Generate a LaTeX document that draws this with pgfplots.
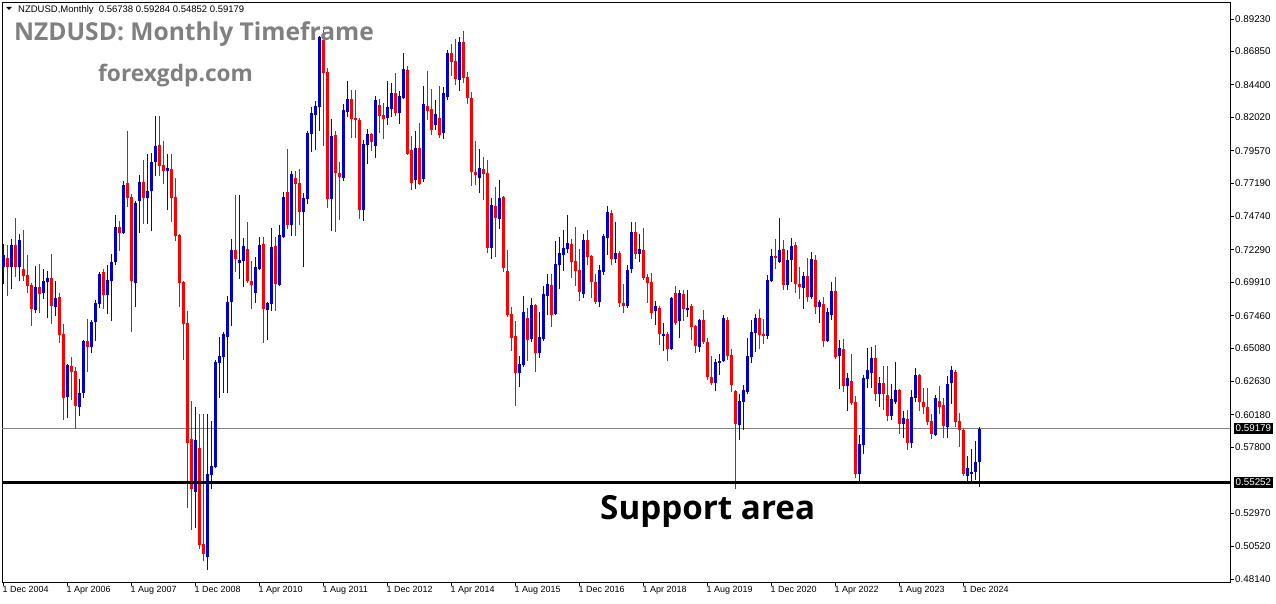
\documentclass[border=0pt]{standalone}
\usepackage{fontspec}
\setmainfont{Liberation Sans}
\newfontfamily\titlefont{Open Sans}
\usepackage{pgfplots}
\pgfplotsset{compat=1.18}
\usepackage{pgfplotstable}

\definecolor{bull}{RGB}{0,0,205}
\definecolor{bear}{RGB}{255,0,0}
\definecolor{wm}{RGB}{128,128,128}
\definecolor{pline}{RGB}{128,132,140}

% monthly candles, i = months since Dec 2004
\pgfplotstableread{
i O H L C
0 0.7100 0.7270 0.6980 0.7190
1 0.7170 0.7265 0.6890 0.7100
2 0.7100 0.7309 0.6944 0.7265
3 0.7265 0.7463 0.7032 0.7100
4 0.7100 0.7345 0.6999 0.7301
5 0.7089 0.7374 0.6999 0.7037
6 0.7045 0.7191 0.6915 0.6964
7 0.6971 0.6985 0.6670 0.6795
8 0.6787 0.7110 0.6763 0.6956
9 0.6956 0.7125 0.6763 0.6905
10 0.6912 0.7088 0.6868 0.6999
11 0.6993 0.7074 0.6729 0.7022
12 0.7022 0.7198 0.6685 0.6817
13 0.6810 0.6999 0.6743 0.6876
14 0.6883 0.6912 0.6545 0.6604
15 0.6611 0.6685 0.5981 0.6142
16 0.6149 0.6395 0.5995 0.6384
17 0.6377 0.6443 0.6127 0.6333
18 0.6340 0.6369 0.5914 0.6083
19 0.6076 0.6281 0.6010 0.6179
20 0.6179 0.6567 0.6142 0.6560
21 0.6560 0.6721 0.6333 0.6516
22 0.6516 0.6714 0.6472 0.6700
23 0.6700 0.6861 0.6560 0.6839
24 0.6832 0.7066 0.6802 0.7052
25 0.7067 0.7088 0.6795 0.6898
26 0.6898 0.7118 0.6758 0.7008
27 0.7000 0.7198 0.6707 0.7140
28 0.7140 0.7485 0.7118 0.7397
29 0.7397 0.7441 0.7221 0.7353
30 0.7353 0.7734 0.7345 0.7705
31 0.7720 0.8101 0.7543 0.7610
32 0.7617 0.7640 0.6626 0.7000
33 0.6986 0.7588 0.6810 0.7573
34 0.7588 0.7778 0.7353 0.7727
35 0.7727 0.7888 0.7419 0.7610
36 0.7610 0.7932 0.7419 0.7661
37 0.7661 0.7940 0.7367 0.7874
38 0.7874 0.8211 0.7771 0.7991
39 0.7998 0.8211 0.7771 0.7844
40 0.7852 0.8028 0.7712 0.7808
41 0.7808 0.7932 0.7521 0.7830
42 0.7822 0.7932 0.7433 0.7610
43 0.7617 0.7756 0.7294 0.7331
44 0.7338 0.7345 0.6810 0.6986
45 0.6993 0.7000 0.6421 0.6685
46 0.6692 0.6780 0.5335 0.5812
47 0.5841 0.6120 0.5173 0.5474
48 0.5452 0.6076 0.5187 0.5834
49 0.5775 0.6025 0.5034 0.5063
50 0.5071 0.6025 0.4945 0.4997
51 0.4975 0.6025 0.4880 0.5584
52 0.5577 0.5973 0.5474 0.5643
53 0.5636 0.6420 0.5628 0.6406
54 0.6399 0.6589 0.6142 0.6450
55 0.6443 0.6626 0.6179 0.6611
56 0.6589 0.6890 0.6179 0.6846
57 0.6846 0.7309 0.6670 0.7228
58 0.7228 0.7632 0.7066 0.7162
59 0.7133 0.7632 0.7015 0.7155
60 0.7147 0.7316 0.6956 0.7257
61 0.7235 0.7433 0.6985 0.7000
62 0.7000 0.7147 0.6795 0.6971
63 0.6912 0.7176 0.6839 0.7103
64 0.7088 0.7323 0.7080 0.7265
65 0.7272 0.7323 0.6545 0.6795
66 0.6788 0.6850 0.6567 0.6839
67 0.6832 0.7389 0.6780 0.7250
68 0.7257 0.7323 0.6780 0.6978
69 0.6971 0.7411 0.6963 0.7338
70 0.7323 0.7653 0.7316 0.7617
71 0.7653 0.7969 0.7382 0.7411
72 0.7411 0.7808 0.7331 0.7786
73 0.7756 0.7808 0.7331 0.7712
74 0.7720 0.7822 0.7411 0.7507
75 0.7507 0.7646 0.7103 0.7610
76 0.7602 0.8101 0.7565 0.8086
77 0.8079 0.8277 0.7950 0.8233
78 0.8219 0.8321 0.7962 0.8285
79 0.8277 0.8800 0.8101 0.8791
80 0.8769 0.8842 0.7990 0.8527
81 0.8534 0.8560 0.7536 0.7602
82 0.7602 0.8190 0.7370 0.8064
83 0.8072 0.8101 0.7360 0.7793
84 0.7793 0.7874 0.7448 0.7764
85 0.7756 0.8299 0.7734 0.8255
86 0.8241 0.8468 0.8204 0.8336
87 0.8336 0.8402 0.8050 0.8190
88 0.8197 0.8402 0.8050 0.8182
89 0.8182 0.8200 0.7455 0.7521
90 0.7521 0.8035 0.7441 0.8006
91 0.7998 0.8116 0.7860 0.8079
92 0.8079 0.8086 0.7954 0.8021
93 0.7990 0.8360 0.7903 0.8330
94 0.8292 0.8336 0.8086 0.8211
95 0.8219 0.8307 0.8042 0.8189
96 0.8197 0.8468 0.8145 0.8277
97 0.8263 0.8453 0.8204 0.8380
98 0.8380 0.8527 0.8211 0.8233
99 0.8233 0.8395 0.8153 0.8358
100 0.8343 0.8674 0.8336 0.8556
101 0.8549 0.8578 0.7925 0.7932
102 0.7962 0.8064 0.7668 0.7720
103 0.7742 0.8101 0.7675 0.7976
104 0.7976 0.8160 0.7705 0.7712
105 0.7749 0.8431 0.7727 0.8299
106 0.8285 0.8541 0.8182 0.8248
107 0.8263 0.8409 0.8072 0.8109
108 0.8145 0.8329 0.8109 0.8226
109 0.8197 0.8431 0.8050 0.8072
110 0.8086 0.8424 0.8042 0.8380
111 0.8351 0.8696 0.8329 0.8674
112 0.8674 0.8740 0.8505 0.8608
113 0.8615 0.8776 0.8439 0.8483
114 0.8476 0.8791 0.8395 0.8754
115 0.8754 0.8835 0.8453 0.8490
116 0.8497 0.8534 0.8299 0.8343
117 0.8343 0.8387 0.7698 0.7800
118 0.7800 0.8028 0.7705 0.7778
119 0.7756 0.7969 0.7646 0.7830
120 0.7822 0.7910 0.7595 0.7786
121 0.7793 0.7888 0.7206 0.7243
122 0.7243 0.7610 0.7162 0.7558
123 0.7551 0.7690 0.7176 0.7463
124 0.7456 0.7742 0.7382 0.7610
125 0.7617 0.7624 0.7066 0.7096
126 0.7074 0.7228 0.6736 0.6751
127 0.6758 0.6810 0.6487 0.6582
128 0.6597 0.6707 0.6083 0.6326
129 0.6326 0.6450 0.6223 0.6391
130 0.6384 0.6890 0.6369 0.6773
131 0.6729 0.6802 0.6413 0.6568
132 0.6575 0.6876 0.6553 0.6824
133 0.6824 0.6832 0.6333 0.6472
134 0.6472 0.6773 0.6435 0.6590
135 0.6575 0.6963 0.6560 0.6905
136 0.6890 0.7052 0.6751 0.6978
137 0.6971 0.7052 0.6663 0.6751
138 0.6758 0.7294 0.6751 0.7125
139 0.7118 0.7323 0.6941 0.7206
140 0.7191 0.7374 0.7074 0.7243
141 0.7235 0.7485 0.7206 0.7279
142 0.7272 0.7309 0.7022 0.7140
143 0.7147 0.7397 0.6963 0.7074
144 0.7081 0.7235 0.6853 0.6920
145 0.6905 0.7345 0.6876 0.7301
146 0.7301 0.7374 0.7118 0.7176
147 0.7184 0.7191 0.6876 0.6993
148 0.6993 0.7052 0.6830 0.6846
149 0.6846 0.7118 0.6810 0.7081
150 0.7066 0.7345 0.7044 0.7331
151 0.7316 0.7551 0.7191 0.7507
152 0.7499 0.7521 0.7118 0.7162
153 0.7162 0.7433 0.7133 0.7206
154 0.7206 0.7220 0.6810 0.6839
155 0.6839 0.6978 0.6766 0.6817
156 0.6817 0.7118 0.6802 0.7081
157 0.7089 0.7433 0.7059 0.7360
158 0.7360 0.7433 0.7162 0.7198
159 0.7198 0.7345 0.7140 0.7235
160 0.7228 0.7389 0.7010 0.7022
161 0.7030 0.7052 0.6839 0.6986
162 0.6993 0.7059 0.6721 0.6766
163 0.6780 0.6853 0.6677 0.6817
164 0.6802 0.6817 0.6531 0.6611
165 0.6604 0.6692 0.6487 0.6611
166 0.6611 0.6626 0.6413 0.6501
167 0.6501 0.6883 0.6495 0.6876
168 0.6912 0.6963 0.6677 0.6692
169 0.6707 0.6934 0.6582 0.6912
170 0.6905 0.6934 0.6707 0.6795
171 0.6795 0.6934 0.6736 0.6802
172 0.6817 0.6832 0.6567 0.6663
173 0.6670 0.6677 0.6472 0.6523
174 0.6516 0.6720 0.6479 0.6714
175 0.6714 0.6788 0.6538 0.6553
176 0.6553 0.6582 0.6274 0.6296
177 0.6296 0.6450 0.6237 0.6252
178 0.6252 0.6428 0.6193 0.6406
179 0.6399 0.6465 0.6311 0.6413
180 0.6413 0.6751 0.6406 0.6729
181 0.6714 0.6736 0.6421 0.6450
182 0.6457 0.6501 0.6186 0.6237
183 0.6193 0.6200 0.5474 0.5951
184 0.5944 0.6171 0.5833 0.6120
185 0.6113 0.6237 0.5907 0.6201
186 0.6186 0.6582 0.6171 0.6450
187 0.6443 0.6714 0.6399 0.6626
188 0.6620 0.6758 0.6479 0.6729
189 0.6729 0.6795 0.6501 0.6604
190 0.6611 0.6721 0.6538 0.6597
191 0.6597 0.7044 0.6575 0.7008
192 0.7000 0.7235 0.6993 0.7184
193 0.7184 0.7309 0.7088 0.7169
194 0.7140 0.7463 0.7133 0.7228
195 0.7235 0.7301 0.6934 0.6971
196 0.6971 0.7228 0.6934 0.7155
197 0.7155 0.7316 0.6993 0.7257
198 0.7265 0.7287 0.6912 0.6978
199 0.6978 0.7103 0.6868 0.6956
200 0.6949 0.7066 0.6795 0.7037
201 0.7037 0.7169 0.6846 0.6883
202 0.6883 0.7213 0.6868 0.7162
203 0.7155 0.7191 0.6758 0.6810
204 0.6810 0.6861 0.6692 0.6846
205 0.6832 0.6883 0.6516 0.6560
206 0.6560 0.6802 0.6553 0.6773
207 0.6751 0.6993 0.6714 0.6927
208 0.6927 0.7030 0.6430 0.6443
209 0.6450 0.6567 0.6208 0.6509
210 0.6502 0.6575 0.6186 0.6230
211 0.6230 0.6325 0.6047 0.6289
212 0.6267 0.6465 0.6091 0.6105
213 0.6113 0.6157 0.5555 0.5584
214 0.5584 0.5870 0.5518 0.5804
215 0.5797 0.6311 0.5731 0.6289
216 0.6281 0.6509 0.6215 0.6347
217 0.6325 0.6516 0.6215 0.6435
218 0.6435 0.6531 0.6120 0.6171
219 0.6171 0.6296 0.6076 0.6252
220 0.6252 0.6377 0.6054 0.6171
221 0.6164 0.6377 0.5973 0.6010
222 0.6010 0.6245 0.5981 0.6135
223 0.6113 0.6406 0.6100 0.6201
224 0.6201 0.6208 0.5878 0.5951
225 0.5951 0.6047 0.5848 0.5995
226 0.5988 0.6054 0.5760 0.5812
227 0.5812 0.6201 0.5775 0.6149
228 0.6142 0.6362 0.6113 0.6311
229 0.6311 0.6318 0.6047 0.6113
230 0.6113 0.6215 0.6025 0.6076
231 0.6076 0.6215 0.5944 0.5966
232 0.5973 0.6025 0.5841 0.5878
233 0.5870 0.6164 0.5863 0.6142
234 0.6120 0.6230 0.6025 0.6076
235 0.6091 0.6142 0.5848 0.5936
236 0.5929 0.6303 0.5848 0.6245
237 0.6252 0.6377 0.6098 0.6347
238 0.6333 0.6347 0.5929 0.5966
239 0.5973 0.6032 0.5782 0.5907
240 0.5907 0.5920 0.5570 0.5584
241 0.5570 0.5716 0.5533 0.5628
242 0.5590 0.5768 0.5526 0.5600
243 0.5599 0.5826 0.5540 0.5674
244 0.56738 0.59284 0.54852 0.59179
}\nzd

\begin{document}
\begin{tikzpicture}
\useasboundingbox (0,0) rectangle (1276bp,604bp);
\begin{axis}[
  at={(2bp,22bp)}, anchor=south west, scale only axis,
  width=1228bp, height=579bp,
  xmin=-0.25, xmax=306.75, ymin=0.47917, ymax=0.90404,
  axis line style={line width=1bp},
  tick align=outside, major tick length=3.5bp,
  tick style={black, line width=0.8bp},
  xtick pos=left, ytick pos=right, yticklabel pos=right,
  xtick={0,16,...,240},
  xticklabels={1 Dec 2004,1 Apr 2006,1 Aug 2007,1 Dec 2008,1 Apr 2010,1 Aug 2011,1 Dec 2012,1 Apr 2014,1 Aug 2015,1 Dec 2016,1 Apr 2018,1 Aug 2019,1 Dec 2020,1 Apr 2022,1 Aug 2023,1 Dec 2024},
  ytick={0.48140,0.50520,0.52970,0.57800,0.60180,0.62630,0.65080,0.67460,0.69910,0.72290,0.74740,0.77190,0.79570,0.82020,0.84400,0.86850,0.89230},
  yticklabels={0.48140,0.50520,0.52970,0.57800,0.60180,0.62630,0.65080,0.67460,0.69910,0.72290,0.74740,0.77190,0.79570,0.82020,0.84400,0.86850,0.89230},
  xticklabel style={font=\fontsize{9}{10}\selectfont, anchor=north west, xshift=-1.5bp, inner sep=1bp},
  yticklabel style={font=\fontsize{9.8bp}{11bp}\selectfont, anchor=west, inner sep=1bp, xshift=0.5bp},
  extra y ticks={0.59179,0.55252},
  extra y tick labels={0.59179,0.55252},
  extra y tick style={major tick length=0pt,
    yticklabel style={font=\fontsize{9.8bp}{11bp}\selectfont, fill=black, text=white,
      anchor=west, inner sep=2bp, xshift=3bp}},
]
\addplot[pline, line width=1bp] coordinates {(-1,0.59179) (310,0.59179)};

% wicks
\addplot[draw=none, mark=none, restrict expr to domain={\thisrow{C}-\thisrow{O}}{0:1},
  error bars/.cd, y dir=both, y explicit, error mark=none,
  error bar style={line width=1bp, draw=bull}]
  table[x=i, y expr={(\thisrow{H}+\thisrow{L})/2}, y error expr={(\thisrow{H}-\thisrow{L})/2}] {\nzd};
\addplot[draw=none, mark=none, restrict expr to domain={\thisrow{C}-\thisrow{O}}{-1:0},
  error bars/.cd, y dir=both, y explicit, error mark=none,
  error bar style={line width=1bp, draw=bear}]
  table[x=i, y expr={(\thisrow{H}+\thisrow{L})/2}, y error expr={(\thisrow{H}-\thisrow{L})/2}] {\nzd};
% bodies
\addplot[draw=none, mark=none, restrict expr to domain={\thisrow{C}-\thisrow{O}}{0:1},
  error bars/.cd, y dir=both, y explicit, error mark=none,
  error bar style={line width=3bp, draw=bull}]
  table[x=i, y expr={(\thisrow{O}+\thisrow{C})/2}, y error expr={max(abs(\thisrow{C}-\thisrow{O})/2,0.00037)}] {\nzd};
\addplot[draw=none, mark=none, restrict expr to domain={\thisrow{C}-\thisrow{O}}{-1:0},
  error bars/.cd, y dir=both, y explicit, error mark=none,
  error bar style={line width=3bp, draw=bear}]
  table[x=i, y expr={(\thisrow{O}+\thisrow{C})/2}, y error expr={max(abs(\thisrow{C}-\thisrow{O})/2,0.00037)}] {\nzd};

\addplot[black, line width=3bp] coordinates {(-1,0.55252) (310,0.55252)};
\end{axis}

\fill (6bp,597bp) -- (12bp,597bp) -- (9bp,594bp) -- cycle;
\node[anchor=base west, inner sep=0, font=\fontsize{9.5bp}{11bp}\selectfont] at (18bp,591bp)
  {NZDUSD,Monthly\ \ 0.56738 0.59284 0.54852 0.59179};
\node[anchor=base west, inner sep=0, text=wm, font={\titlefont\bfseries\fontsize{24.6bp}{28bp}\selectfont}] at (14bp,563bp)
  {NZDUSD: Monthly Timeframe};
\node[anchor=base west, inner sep=0, text=wm, font={\titlefont\bfseries\fontsize{22.7bp}{26bp}\selectfont}] at (98bp,522bp)
  {forexgdp.com};
\node[anchor=base west, inner sep=0, text=black, font={\titlefont\bfseries\fontsize{33.2bp}{38bp}\selectfont}] at (600bp,84bp)
  {Support area};
\end{tikzpicture}
\end{document}
